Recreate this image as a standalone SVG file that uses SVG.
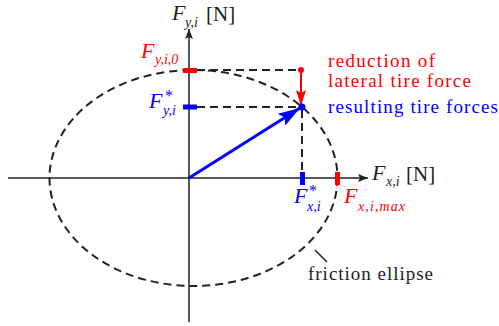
<svg xmlns="http://www.w3.org/2000/svg" width="499" height="326" viewBox="0 0 499 326">
<style>
.ax{stroke:#222;stroke-width:1.5;fill:none}
.dash{stroke:#222;stroke-width:2;fill:none;stroke-dasharray:8 5}
.m{font-family:"Liberation Serif",serif;font-style:italic;font-size:22px}
.s{font-family:"Liberation Serif",serif;font-style:italic;font-size:14px}
.st{font-family:"Liberation Serif",serif;font-size:16px}
.t{font-family:"Liberation Serif",serif;font-size:19px}
.n{font-family:"Liberation Serif",serif;font-size:21px}
.k{fill:#222}.r{fill:#ff0000}.b{fill:#0000ff}
</style>
<defs>
<marker id="axh" viewBox="0 0 10 8" refX="10" refY="4" markerWidth="10" markerHeight="8" markerUnits="userSpaceOnUse" orient="auto"><path d="M0,0 L10,4 L0,8 L2,4 Z" fill="#222"/></marker>
<marker id="rh" viewBox="0 0 16 10" refX="16" refY="5" markerWidth="16" markerHeight="10" markerUnits="userSpaceOnUse" orient="auto"><path d="M0,0 L16,5 L0,10 L3,5 Z" fill="#ff0000"/></marker>
<marker id="bh" viewBox="0 0 22 14" refX="22" refY="7" markerWidth="22" markerHeight="14" markerUnits="userSpaceOnUse" orient="auto"><path d="M0,0 L22,7 L0,14 L4,7 Z" fill="#0000ff"/></marker>
</defs>
<g id="ellipse"><ellipse class="dash" cx="193.5" cy="178" rx="144" ry="108"/></g>
<g id="axes">
<line class="ax" x1="8" y1="178" x2="368" y2="178" marker-end="url(#axh)"/>
<line class="ax" x1="189" y1="322" x2="189" y2="29" marker-end="url(#axh)"/>
</g>
<g id="connectors">
<line class="dash" x1="197" y1="70" x2="301" y2="70"/>
<line class="dash" x1="197" y1="107" x2="301" y2="107"/>
<line class="dash" x1="302" y1="110" x2="302" y2="172"/>
<line stroke="#ff0000" stroke-width="2" x1="301" y1="70" x2="301" y2="106" marker-end="url(#rh)"/>
<line stroke="#0000ff" stroke-width="3" x1="189" y1="178" x2="300" y2="108" marker-end="url(#bh)"/>
<line stroke="#222" stroke-width="1.5" x1="315" y1="250" x2="327" y2="262"/>
</g>
<g id="markers">
<rect x="183" y="68" width="14" height="5" fill="#ff0000"/>
<circle cx="301" cy="70" r="3" fill="#ff0000"/>
<rect x="183" y="104.5" width="14" height="5" fill="#0000ff"/>
<circle cx="302" cy="107" r="3.5" fill="#0000ff"/>
<rect x="300" y="172" width="5" height="13" fill="#0000ff"/>
<rect x="335" y="172" width="5" height="13" fill="#ff0000"/>
</g>
<g id="labels">
<text class="m k" x="172" y="20">F</text><text class="s k" x="185" y="27">y,i</text><text class="n k" x="206" y="21">[N]</text>
<text class="m k" x="372" y="180">F</text><text class="s k" x="386" y="186">x,i</text><text class="n k" x="406" y="181">[N]</text>
<text class="m r" x="141" y="58">F</text><text class="s r" x="155" y="64">y,i,0</text>
<text class="m b" x="149" y="108">F</text><text class="st b" x="165" y="101">*</text><text class="s b" x="163" y="115">y,i</text>
<text class="m b" x="294" y="203">F</text><text class="st b" x="309" y="196">*</text><text class="s b" x="307" y="211">x,i</text>
<text class="m r" x="344" y="203">F</text><text class="s r" x="358" y="211" textLength="47">x,i,max</text>
<text class="t r" x="328" y="67" textLength="107">reduction of</text>
<text class="t r" x="328" y="87" textLength="143">lateral tire force</text>
<text class="t b" x="328" y="113" textLength="170">resulting tire forces</text>
<text class="t k" x="308" y="280" textLength="125">friction ellipse</text>
</g>
</svg>
